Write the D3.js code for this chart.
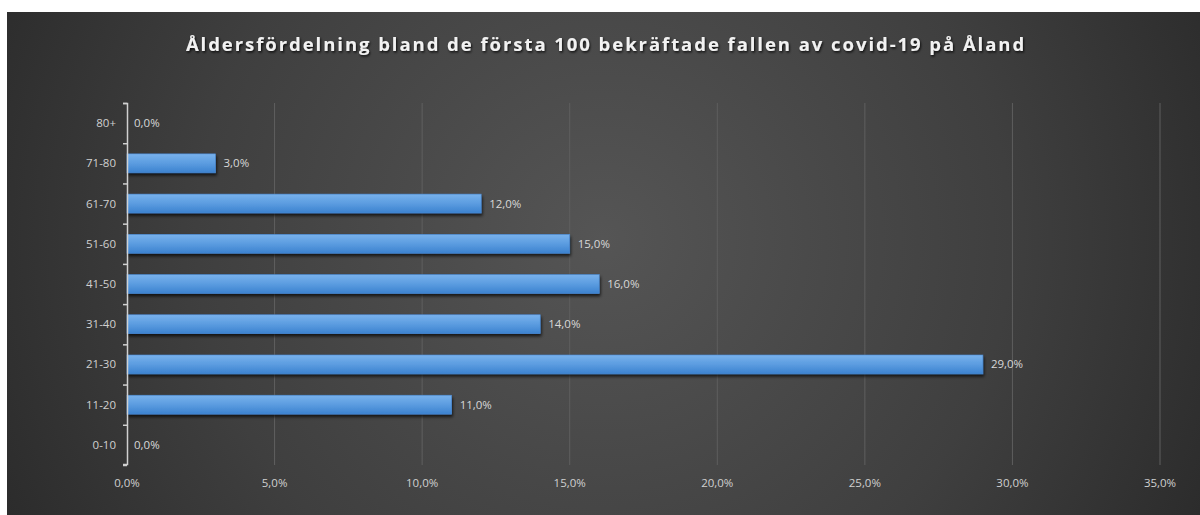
<!DOCTYPE html>
<html><head><meta charset="utf-8">
<script src="https://cdn.jsdelivr.net/npm/d3@7"></script>
<style>html,body{margin:0;padding:0;background:#fff;}svg{display:block;}</style>
</head><body>
<script>
const categories = ["0-10","11-20","21-30","31-40","41-50","51-60","61-70","71-80","80+"];
const values = [0,11,29,14,16,15,12,3,0];
const xTicks = [0,5,10,15,20,25,30,35];
const title = "Åldersfördelning bland de första 100 bekräftade fallen av covid-19 på Åland";

const W=1200,H=515;
const svg=d3.select("body").append("svg").attr("width",W).attr("height",H);
const defs=svg.append("defs");
const rg=defs.append("radialGradient").attr("id","bg").attr("cx","0.5").attr("cy","0.45").attr("r","0.62")
  .attr("gradientUnits","objectBoundingBox").attr("gradientTransform","translate(0.5,0.45) scale(1,2.3) translate(-0.5,-0.45)");
rg.append("stop").attr("offset","0").attr("stop-color","#555555");
rg.append("stop").attr("offset","0.55").attr("stop-color","#3f3f3f");
rg.append("stop").attr("offset","1").attr("stop-color","#262626");
const bg=defs.append("linearGradient").attr("id","bar").attr("x1",0).attr("y1",0).attr("x2",0).attr("y2",1);
bg.append("stop").attr("offset","0").attr("stop-color","#79b2ec");
bg.append("stop").attr("offset","0.5").attr("stop-color","#5b9ce0");
bg.append("stop").attr("offset","1").attr("stop-color","#3c82cf");
const f=defs.append("filter").attr("id","sh").attr("x","-5%").attr("y","-30%").attr("width","110%").attr("height","180%");
f.append("feDropShadow").attr("dx",1).attr("dy",2.5).attr("stdDeviation",1.5).attr("flood-color","#000").attr("flood-opacity",0.7);
const tf=defs.append("filter").attr("id","tsh").attr("x","-5%").attr("y","-30%").attr("width","110%").attr("height","180%");
tf.append("feDropShadow").attr("dx",1).attr("dy",1.5).attr("stdDeviation",1).attr("flood-color","#000").attr("flood-opacity",0.8);

svg.append("rect").attr("x",7).attr("y",12).attr("width",W-7).attr("height",H-12).attr("fill","url(#bg)");

const x=d3.scaleLinear().domain([0,35]).range([127,1160]);
const y=d3.scaleBand().domain(categories.slice().reverse()).range([103,465]).paddingInner(0.53).paddingOuter(0.265);

// gridlines
svg.append("g").selectAll("line").data(xTicks.slice(1)).join("line")
  .attr("x1",d=>x(d)).attr("x2",d=>x(d)).attr("y1",103).attr("y2",465)
  .attr("stroke","#5f5f5f").attr("stroke-width",1);

// x labels
svg.append("g").selectAll("text").data(xTicks).join("text")
  .attr("x",d=>x(d)).attr("y",487).attr("text-anchor","middle")
  .attr("font-family","Open Sans, sans-serif").attr("font-size",11.5).attr("fill","#d0d0d0")
  .text(d=>d.toFixed(1).replace(".",",")+"%");

// bars
svg.append("g").selectAll("rect").data(categories.map((c,i)=>({c,v:values[i]})).filter(d=>d.v>0)).join("rect")
  .attr("x",x(0)).attr("y",d=>y(d.c)).attr("width",d=>x(d.v)-x(0)).attr("height",y.bandwidth())
  .attr("fill","url(#bar)").attr("stroke","#4a8ad6").attr("stroke-width",0.6).attr("filter","url(#sh)");

// value labels
svg.append("g").selectAll("text").data(categories.map((c,i)=>({c,v:values[i]}))).join("text")
  .attr("x",d=>x(d.v)+(d.v>0?8:7)).attr("y",d=>y(d.c)+y.bandwidth()/2+4)
  .attr("font-family","Open Sans, sans-serif").attr("font-size",11.5).attr("fill","#d8d8d8")
  .text(d=>d.v.toFixed(1).replace(".",",")+"%");

// y axis
const yAxis=d3.axisLeft(d3.scaleLinear().domain([0,9]).range([465,103])).ticks(9).tickSize(4).tickFormat("");
const ga=svg.append("g").attr("transform","translate(127,0)").call(yAxis);
ga.selectAll("path,line").attr("stroke","#d0d0d0").attr("stroke-width",1.5);
ga.select(".domain").attr("d","M-4,103.5H0.5V464.5H-4");

svg.append("g").selectAll("text").data(categories).join("text")
  .attr("x",116).attr("y",d=>y(d)+y.bandwidth()/2+4).attr("text-anchor","end")
  .attr("font-family","Open Sans, sans-serif").attr("font-size",11.5).attr("fill","#d0d0d0")
  .text(d=>d);

// title
svg.append("text").attr("x",606).attr("y",51).attr("text-anchor","middle")
  .attr("font-family","Open Sans, sans-serif").attr("font-weight","bold").attr("font-size",18.5)
  .attr("letter-spacing","1.95").attr("fill","#f2f2f2").attr("filter","url(#tsh)")
  .text(title);
</script>
</body></html>
